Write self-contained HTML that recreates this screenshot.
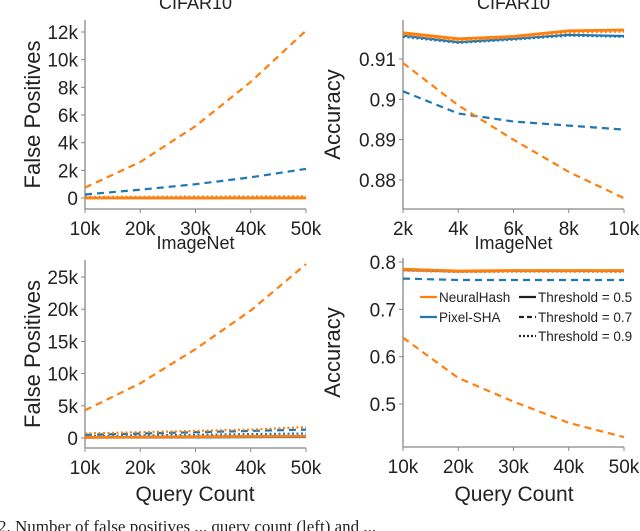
<!DOCTYPE html>
<html><head><meta charset="utf-8"><style>
html,body{margin:0;padding:0;background:#fff;}
svg{display:block;font-family:"Liberation Sans","DejaVu Sans",sans-serif;}
</style></head><body>
<svg id="fig" width="640" height="531" viewBox="0 0 640 531"></svg>
<script>
const NS="http://www.w3.org/2000/svg";
const svg=document.getElementById('fig');
// ---- data ----
const fpX=[10,20,30,40,50];
const accCifarX=[2,4,6,8,10];
const accImgX=[10,20,30,40,50];
const cifarFpNH5=[0,0,0,0,0];
const cifarFpNH7=[750,2600,5200,8400,12100];
const cifarFpNH9=[80,90,100,110,120];
const cifarFpPS5=[0,0,0,0,0];
const cifarFpPS7=[250,600,1000,1500,2100];
const cifarFpPS9=[20,30,40,50,60];
const imgFpNH5=[100,150,200,250,300];
const imgFpNH7=[4300,8500,13800,19800,27000];
const imgFpNH9=[700,900,1100,1300,1700];
const imgFpPS5=[50,80,100,130,150];
const imgFpPS7=[500,700,900,1100,1300];
const imgFpPS9=[300,400,500,600,700];
const cifarAccNH5=[0.9165,0.915,0.9156,0.917,0.9172];
const cifarAccNH7=[0.909,0.8985,0.890,0.882,0.8755];
const cifarAccNH9=[0.9160,0.9145,0.9152,0.9165,0.9168];
const cifarAccPS5=[0.9158,0.9142,0.9150,0.9160,0.9157];
const cifarAccPS7=[0.902,0.8965,0.8945,0.8935,0.8925];
const cifarAccPS9=[0.9155,0.914,0.9148,0.9158,0.9155];
const imgAccNH5=[0.785,0.781,0.782,0.782,0.782];
const imgAccNH7=[0.640,0.555,0.505,0.460,0.430];
const imgAccNH9=[0.782,0.779,0.780,0.780,0.779];
const imgAccPS5=[0.783,0.780,0.781,0.781,0.781];
const imgAccPS7=[0.765,0.762,0.762,0.762,0.762];
const imgAccPS9=[0.782,0.779,0.780,0.780,0.780];
const fpTicksCifar=[0,2000,4000,6000,8000,10000,12000];
const fpTickLabelsCifar=["0","2k","4k","6k","8k","10k","12k"];
const fpTicksImg=[0,5000,10000,15000,20000,25000];
const fpTickLabelsImg=["0","5k","10k","15k","20k","25k"];
const accTicksCifar=[0.88,0.89,0.9,0.91];
const accTickLabelsCifar=["0.88","0.89","0.9","0.91"];
const accTicksImg=[0.5,0.6,0.7,0.8];
const accTickLabelsImg=["0.5","0.6","0.7","0.8"];
const xTickLabelsK=["10k","20k","30k","40k","50k"];
const xTickLabelsCifar=["2k","4k","6k","8k","10k"];

const OR="#ff7f0e", BL="#1f77b4";
function el(tag,attrs,parent){const e=document.createElementNS(NS,tag);for(const k in attrs)e.setAttribute(k,attrs[k]);(parent||svg).appendChild(e);return e;}
function txt(s,attrs,parent){const t=el('text',attrs,parent);t.textContent=s;return t;}

function panel(o){
  const g=el('g',{});
  
  
  const sx=v=>o.x0+(v-o.xmin)/(o.xmax-o.xmin)*(o.x1-o.x0);
  const sy=v=>o.y0+(v-o.ymin)/(o.ymax-o.ymin)*(o.y1-o.y0);
  const ys=el('line',{x1:o.x0,x2:o.x0,y1:o.top,y2:o.bottom,stroke:'#888','stroke-width':1.3},g);
  
  const xs=el('line',{x1:o.x0,x2:o.x1,y1:o.bottom,y2:o.bottom,stroke:'#888','stroke-width':1.3},g);
  
  o.xticks.forEach((v,i)=>{const x=sx(v);
    el('line',{x1:x,x2:x,y1:o.bottom,y2:o.bottom+4,stroke:'#888','stroke-width':1},g);
    const t=txt(o.xlabels[i],{x:x,y:o.bottom+26,'text-anchor':'middle','font-size':19,fill:'#222'},g);
    });
  o.yticks.forEach((v,i)=>{const y=sy(v);
    el('line',{x1:o.x0-4,x2:o.x0,y1:y,y2:y,stroke:'#888','stroke-width':1},g);
    const t=txt(o.ylabels[i],{x:o.x0-7,y:y+7,'text-anchor':'end','font-size':19,fill:'#222'},g);
    });
  const yt=txt(o.ytitle,{x:0,y:0,'text-anchor':'middle','font-size':22,fill:'#222',transform:`translate(${o.ytx},${(o.top+o.bottom)/2}) rotate(-90)`},g);
  
  const tt=txt(o.title,{x:(o.x0+o.x1)/2,y:o.titleY,'text-anchor':'middle','font-size':18,fill:'#222'},g);
  
  o.series.forEach(s=>{
    const pts=o.xs.map((xv,i)=>sx(xv).toFixed(1)+','+sy(s.d[i]).toFixed(1)).join(' ');
    const p=el('polyline',{points:pts,fill:'none',stroke:s.c,'stroke-width':s.w||2.2,'stroke-dasharray':s.dash||'none'},g);
    
  });
}
const dashD='7,5', dotD='2,2.5';
panel({name:'cifar-false-positives',x0:85,x1:306,xmin:10,xmax:50,y0:198,y1:32,ymin:0,ymax:12000,top:20,bottom:209,
  xs:fpX,xticks:fpX,xlabels:xTickLabelsK,yticks:fpTicksCifar,ylabels:fpTickLabelsCifar,ytitle:'False Positives',ytx:40,title:'CIFAR10',titleY:9,
  series:[{n:'blue-t05',d:cifarFpPS5,c:BL},{n:'blue-t09',d:cifarFpPS9,c:BL,dash:dotD},{n:'blue-t07',d:cifarFpPS7,c:BL,dash:dashD},
    {n:'orange-t09',d:cifarFpNH9,c:OR,dash:dotD},{n:'orange-t05',d:cifarFpNH5,c:OR,w:2.8},{n:'orange-t07',d:cifarFpNH7,c:OR,dash:dashD}]});
panel({name:'cifar-accuracy',x0:403,x1:624,xmin:2,xmax:10,y0:59,y1:180,ymin:0.91,ymax:0.88,top:20,bottom:209,
  xs:accCifarX,xticks:accCifarX,xlabels:xTickLabelsCifar,yticks:accTicksCifar,ylabels:accTickLabelsCifar,ytitle:'Accuracy',ytx:340,title:'CIFAR10',titleY:9,
  series:[{n:'blue-t05',d:cifarAccPS5,c:BL},{n:'blue-t07',d:cifarAccPS7,c:BL,dash:dashD},{n:'orange-t07',d:cifarAccNH7,c:OR,dash:dashD},
    {n:'orange-t09',d:cifarAccNH9,c:OR,dash:dotD},{n:'orange-t05',d:cifarAccNH5,c:OR,w:2.8},{n:'blue-t09',d:cifarAccPS9,c:BL,dash:dotD}]});
panel({name:'imagenet-false-positives',x0:85,x1:306,xmin:10,xmax:50,y0:438,y1:277,ymin:0,ymax:25000,top:260,bottom:448,
  xs:fpX,xticks:fpX,xlabels:xTickLabelsK,yticks:fpTicksImg,ylabels:fpTickLabelsImg,ytitle:'False Positives',ytx:40,title:'ImageNet',titleY:249,
  series:[{n:'blue-t05',d:imgFpPS5,c:BL},{n:'blue-t09',d:imgFpPS9,c:BL,dash:dotD},{n:'blue-t07',d:imgFpPS7,c:BL,dash:dashD},
    {n:'orange-t05',d:imgFpNH5,c:OR,w:2.8},{n:'orange-t09',d:imgFpNH9,c:OR,dash:dotD},{n:'orange-t07',d:imgFpNH7,c:OR,dash:dashD}]});
panel({name:'imagenet-accuracy',x0:403,x1:624,xmin:10,xmax:50,y0:262,y1:404,ymin:0.8,ymax:0.5,top:258,bottom:447,
  xs:accImgX,xticks:accImgX,xlabels:xTickLabelsK,yticks:accTicksImg,ylabels:accTickLabelsImg,ytitle:'Accuracy',ytx:340,title:'ImageNet',titleY:249,
  series:[{n:'blue-t05',d:imgAccPS5,c:BL},{n:'blue-t09',d:imgAccPS9,c:BL,dash:dotD},{n:'blue-t07',d:imgAccPS7,c:BL,dash:dashD},
    {n:'orange-t05',d:imgAccNH5,c:OR,w:2.8},{n:'orange-t09',d:imgAccNH9,c:OR,dash:dotD},{n:'orange-t07',d:imgAccNH7,c:OR,dash:dashD}]});
[[195,'x-axis-title-left'],[514,'x-axis-title-right']].forEach(([x,n])=>{
  const t=txt('Query Count',{x:x,y:501,'text-anchor':'middle','font-size':21,fill:'#222'});
  });
const lg=el('g',{});

const legItems=[[420,297,'NeuralHash',OR,'none'],[420,317,'Pixel-SHA',BL,'none'],
  [519,297,'Threshold = 0.5','#222','none'],[519,317,'Threshold = 0.7','#222','5,3'],[519,336,'Threshold = 0.9','#222','2,2']];
legItems.forEach(([x,y,l,c,d])=>{
  const e=el('g',{},lg);
  
  el('line',{x1:x,x2:x+17,y1:y,y2:y,stroke:c,'stroke-width':2.2,'stroke-dasharray':d},e);
  txt(l,{x:x+19,y:y+5,'font-size':13.5,fill:'#222'},e);
});
const cap=txt('2.  Number of false positives ... query count (left) and ...',{x:-2,y:532,'font-size':17,fill:'#222','font-family':'Liberation Serif,serif'});

</script>
</body></html>
